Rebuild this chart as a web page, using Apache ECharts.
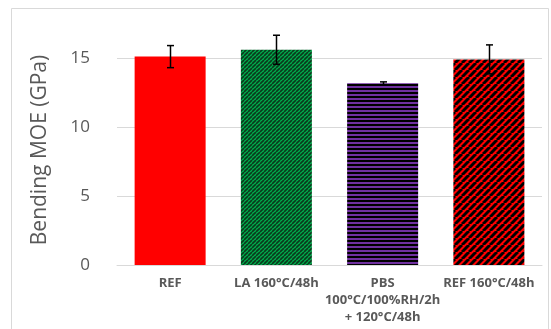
<!DOCTYPE html>
<html><head><meta charset="utf-8">
<script src="https://cdn.jsdelivr.net/npm/echarts@6/dist/echarts.min.js"></script>
<style>html,body{margin:0;padding:0;background:#fff}#c{width:551px;height:329px}</style>
</head><body><div id="c"></div>
<script>
var categories = ['REF', 'LA 160°C/48h', 'PBS\n100°C/100%RH/2h\n+ 120°C/48h', 'REF 160°C/48h'];
var moeValues = [15.1, 15.6, 13.17, 14.9];
var moeErrors = [0.8, 1.05, 0.1, 1.05];
var yTicks = [0, 5, 10, 15];

function makePattern(w, h, draw) {
  var c = document.createElement('canvas');
  c.width = w; c.height = h;
  var ctx = c.getContext('2d');
  draw(ctx, w, h);
  return { image: c, repeat: 'repeat' };
}
function diag(bg, fg, size, lw) {
  return makePattern(size, size, function (ctx, w, h) {
    ctx.fillStyle = bg; ctx.fillRect(0, 0, w, h);
    ctx.strokeStyle = fg; ctx.lineWidth = lw;
    for (var k = -1; k <= 1; k++) {
      ctx.beginPath();
      ctx.moveTo(k * w, h); ctx.lineTo(k * w + w, 0); ctx.stroke();
    }
  });
}
var greenPat = diag('#00b050', '#0a3a1c', 4, 1.7);
var redPat = diag('#ff0000', '#000000', 7, 3);
var purplePat = makePattern(4, 4, function (ctx, w, h) {
  ctx.fillStyle = '#7030a0'; ctx.fillRect(0, 0, w, h);
  ctx.fillStyle = '#000000'; ctx.fillRect(0, 0, w, 2);
});
var fills = ['#ff0000', greenPat, purplePat, redPat];

var chart = echarts.init(document.getElementById('c'), null, { renderer: 'canvas' });
chart.setOption({
  animation: false,
  backgroundColor: '#ffffff',
  graphic: [
    { type: 'rect', shape: { x: 11.5, y: 8.5, width: 537, height: 330 }, style: { fill: 'none', stroke: '#d9d9d9', lineWidth: 1 }, z: -1 },
    { type: 'text', x: 40, y: 150, rotation: Math.PI / 2, style: { text: 'Bending MOE (GPa)', font: '21px "Open Sans", "DejaVu Sans", sans-serif', fill: '#595959', align: 'center', verticalAlign: 'middle' } }
  ],
  grid: { left: 117, right: 9, top: 58, bottom: 64, containLabel: false },
  xAxis: {
    type: 'category', data: categories,
    axisLine: { lineStyle: { color: '#d9d9d9', width: 1 } },
    axisTick: { show: false },
    axisLabel: { interval: 0, color: '#595959', fontWeight: 'bold', fontSize: 13, lineHeight: 17, margin: 10, fontFamily: 'Open Sans, DejaVu Sans, sans-serif' }
  },
  yAxis: {
    type: 'value', min: yTicks[0], max: yTicks[yTicks.length - 1], interval: 5,
    axisLine: { show: false }, axisTick: { show: false },
    axisLabel: { color: '#595959', fontSize: 17, margin: 27, fontFamily: 'Open Sans, DejaVu Sans, sans-serif' },
    splitLine: { lineStyle: { color: '#d9d9d9', width: 1 } }
  },
  series: [
    {
      type: 'bar', barWidth: 71, clip: false,
      data: moeValues.map(function (v, i) { return { value: v, itemStyle: { color: fills[i] } }; }),
      z: 2
    },
    {
      type: 'custom', clip: false, z: 5,
      data: moeValues.map(function (v, i) { return [i, v - moeErrors[i], v + moeErrors[i]]; }),
      renderItem: function (params, api) {
        var lo = api.coord([api.value(0), api.value(1)]);
        var hi = api.coord([api.value(0), api.value(2)]);
        var x = Math.round(lo[0]) + 0.5, hw = 3.5;
        var st = { stroke: '#000', lineWidth: 1.5 };
        return { type: 'group', children: [
          { type: 'line', shape: { x1: x, y1: lo[1], x2: x, y2: hi[1] }, style: st },
          { type: 'line', shape: { x1: x - hw, y1: lo[1], x2: x + hw, y2: lo[1] }, style: st },
          { type: 'line', shape: { x1: x - hw, y1: hi[1], x2: x + hw, y2: hi[1] }, style: st }
        ] };
      }
    }
  ]
});
</script></body></html>
